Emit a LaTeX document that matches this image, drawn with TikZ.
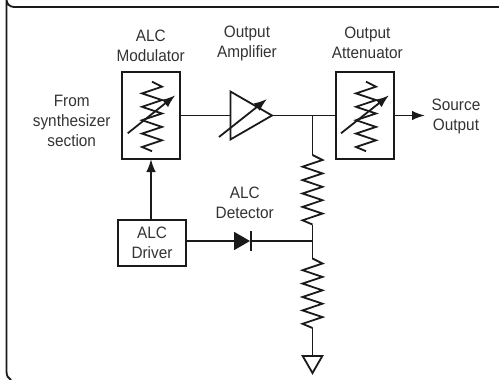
\documentclass[tikz,border=0pt]{standalone}
\usepackage{fontspec}
\setmainfont{Liberation Sans}[FakeStretch=0.93]
\usetikzlibrary{arrows.meta}
\usetikzlibrary{shapes.geometric}
\definecolor{DarkLine}{HTML}{1A1A1A}
\definecolor{DarkText}{HTML}{333333}
\tikzset{
  wire/.style={line width=1.8pt,draw=DarkLine},
  flow/.style={wire,-{Latex[length=13pt,width=9.5pt]}},
  blockbox/.style={draw=DarkLine,line width=1.8pt,inner sep=0pt,outer sep=0pt},
  label/.style={text=DarkText,align=center,inner sep=0pt,font=\fontsize{16.5}{20}\selectfont},
  zigzag/.pic={
    \coordinate (-top) at (0,0);
    \coordinate (-bot) at (0,69.5);
    \draw[wire] (-top) -- (10,5) -- (-10,11.7) -- (10,18.4) -- (-10,25.1) -- (10,31.8)
      -- (-10,38.5) -- (10,45.2) -- (-10,51.9) -- (10,58.6) -- (-10,65.3) -- (-bot);
  }
}
\begin{document}
\begin{tikzpicture}[x=1pt,y=-1pt]
  \useasboundingbox (0,0) rectangle (499,380);

  % frame
  \draw[wire] (499,7) -- (14,7) arc[start angle=90,end angle=180,radius=7.5] -- (6.5,371) .. controls (6.5,376) and (8,378) .. (11,380);

  % blocks
  \node[blockbox,minimum width=58pt,minimum height=87pt] (modulator) at (151,115.5) {};
  \node[blockbox,minimum width=58pt,minimum height=87pt] (attenuator) at (365,115.5) {};
  \node[blockbox,label,minimum width=68pt,minimum height=46pt] (driver) at (152,243) {ALC\\Driver};
  \node[blockbox,isosceles triangle,isosceles triangle apex angle=60,minimum height=41.5pt,anchor=apex] (amp) at (272,115.5) {};

  % labels
  \node[label] (modlabel) at (150.7,45.5) {ALC\\Modulator};
  \node[label] (amplabel) at (247,43.5) {Output\\Amplifier};
  \node[label] (attlabel) at (367.3,43) {Output\\Attenuator};
  \node[label] (srclabel) at (456,116) {Source\\Output};
  \node[label] (detlabel) at (244.7,203) {ALC\\Detector};
  \node[label] (synlabel) at (71.7,121) {From\\synthesizer\\section};

  % variable resistors
  \pic (modres) at (152,81.7) {zigzag};
  \pic (attres) at (366,81.7) {zigzag};
  \coordinate (modtail) at (127.7,133.3);
  \coordinate (modtip) at (175.3,95.3);
  \coordinate (atttail) at (341,133.3);
  \coordinate (atttip) at (389,95.3);
  \coordinate (amptail) at (219,137);
  \coordinate (amptip) at (267,99);
  \draw[flow] (modtail) -- (modtip);
  \draw[flow] (atttail) -- (atttip);
  \draw[flow] (amptail) -- (amptip);

  % detector path
  \coordinate (topjoin) at (312.5,115.5);
  \coordinate (midjoin) at (312.5,241);
  \coordinate (srcend) at (425,115.5);
  \pic (upperres) at (312.5,155) {zigzag};
  \pic (lowerres) at (312.5,258.5) {zigzag};
  \node[fill=DarkLine,isosceles triangle,isosceles triangle apex angle=60,minimum height=16pt,inner sep=0pt,outer sep=0pt,anchor=apex] (diode) at (250,241) {};
  \coordinate (barup) at (251,231);
  \coordinate (bardown) at (251,251);
  \node[blockbox,isosceles triangle,isosceles triangle apex angle=60,shape border rotate=-90,minimum height=17pt,anchor=apex] (ground) at (312.5,373) {};

  % connectors
  \draw[wire] (modulator.east) -- (amp.west);
  \draw[wire] (amp.apex) -- (attenuator.west);
  \draw[flow] (attenuator.east) -- (srcend);
  \draw[flow] (driver.north -| modulator.south) -- (modulator.south);
  \draw[wire] (driver.east |- diode.west) -- (diode.west);
  \draw[wire] (barup) -- (bardown);
  \draw[wire] (diode.apex) -- (midjoin);
  \draw[wire] (topjoin) -- (upperres-top);
  \draw[wire] (upperres-bot) -- (midjoin) -- (lowerres-top);
  \draw[wire] (lowerres-bot) -- (ground.lower side);
\end{tikzpicture}
\end{document}
